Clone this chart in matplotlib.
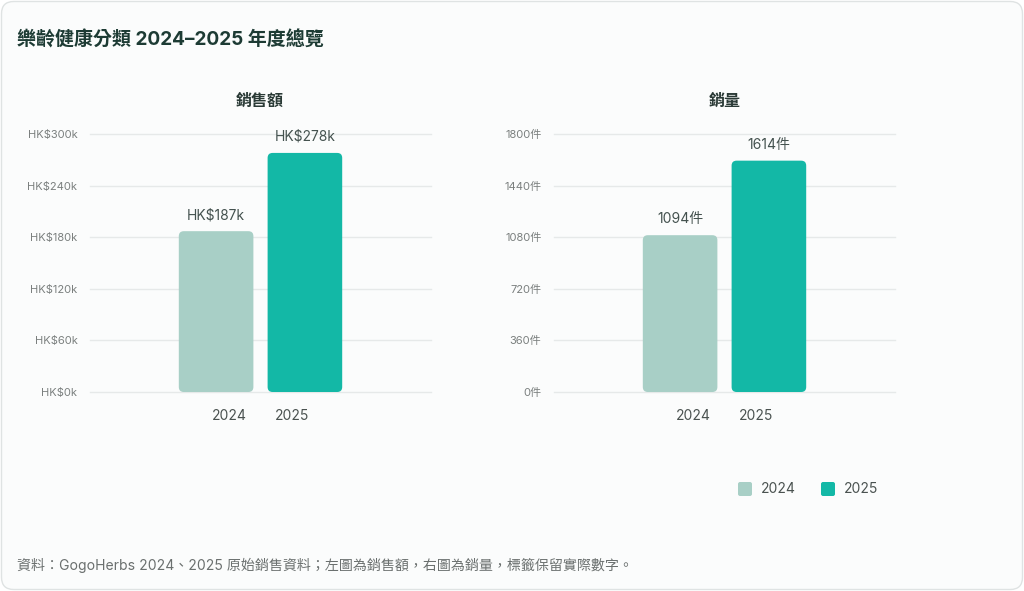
import matplotlib
matplotlib.use("Agg")
import matplotlib.pyplot as plt
from matplotlib.patches import FancyBboxPatch

plt.rcParams['font.family'] = ['Inter', 'Noto Sans CJK TC', 'DejaVu Sans']

title = "樂齡健康分類 2024–2025 年度總覽"
footer = "資料：GogoHerbs 2024、2025 原始銷售資料；左圖為銷售額，右圖為銷量，標籤保留實際數字。"
years = ["2024", "2025"]
sales_k = [187, 278]
units = [1094, 1614]
sales_ticks = [0, 60, 120, 180, 240, 300]
unit_ticks = [0, 360, 720, 1080, 1440, 1800]
panel_titles = ["銷售額", "銷量"]

c2024 = "#a8cfc6"
c2025 = "#13b8a6"
colors = [c2024, c2025]
grid_c = "#e6e9e9"
tick_c = "#7a7f7e"
val_c = "#44524f"
title_c = "#1d3b34"

W, H = 1024, 591
fig = plt.figure(figsize=(W / 100, H / 100), dpi=100)
fig.patch.set_facecolor("white")

card = FancyBboxPatch((1.5 / W, 1.5 / H), (W - 3) / W, (H - 3) / H,
                      boxstyle="round,pad=0,rounding_size=0.012",
                      mutation_aspect=W / H,
                      transform=fig.transFigure, facecolor="#fbfcfc",
                      edgecolor="#dfe3e3", linewidth=1.0, zorder=-5)
fig.patches.append(card)

fig.text(17 / W, 1 - 40 / H, title, fontsize=13.7, fontweight="bold",
         color=title_c, va="center", ha="left")
fig.text(17 / W, 1 - 565 / H, footer, fontsize=10.1, color="#6b706f",
         va="center", ha="left")


def make_panel(left_px, vals, ticks, fmt, lab_fmt, ptitle, title_x_px):
    ax = fig.add_axes([left_px / W, 1 - 392 / H, 341 / W, 258 / H])
    ax.set_facecolor("none")
    xs = [0, 1]
    bars = ax.bar(xs, vals, width=0.84, color=colors)
    ax.set_xlim(-1.42, 2.42)
    ax.set_ylim(0, ticks[-1])
    for s in ax.spines.values():
        s.set_visible(False)
    ax.set_yticks(ticks)
    ax.set_yticklabels([fmt(t) for t in ticks])
    ax.tick_params(axis="y", length=0, pad=9, labelsize=8, labelcolor=tick_c)
    for t in ticks:
        ax.axhline(t, color=grid_c, linewidth=1.0, zorder=1, clip_on=False)
    ax.set_xticks([0.15, 0.86])
    ax.set_xticklabels(years)
    ax.tick_params(axis="x", length=0, pad=12, labelsize=10, labelcolor="#4a5250")
    # rounded bars
    xpp = (ax.get_xlim()[1] - ax.get_xlim()[0]) / 341.0
    ypp = ticks[-1] / 258.0
    for b, c in zip(bars, colors):
        x, y, w, h = b.get_x(), b.get_y(), b.get_width(), b.get_height()
        b.set_visible(False)
        p = FancyBboxPatch((x, y), w, h,
                           boxstyle=f"round,pad=0,rounding_size={5 * xpp}",
                           mutation_aspect=ypp / xpp,
                           facecolor=c, edgecolor="none", zorder=3)
        ax.add_patch(p)
        ax.text(x + w / 2, y + h + 9 * ypp, lab_fmt(h), ha="center",
                va="bottom", fontsize=10, color=val_c, zorder=4)
    fig.text(title_x_px / W, 1 - 101 / H, ptitle, fontsize=11.5,
             fontweight="bold", color="#2a3a36", ha="center", va="center")
    return ax


make_panel(90, sales_k, sales_ticks, lambda t: f"HK${t}k",
           lambda v: f"HK${v:.0f}k", panel_titles[0], 260)
make_panel(554, units, unit_ticks, lambda t: f"{t}件",
           lambda v: f"{v:.0f}件", panel_titles[1], 725)

# legend
for i, (yr, c) in enumerate(zip(years, colors)):
    x0 = 745 + i * 83
    sq = FancyBboxPatch(((x0 - 7) / W, (1 - 489 / H) - 7 / H), 14 / W, 14 / H,
                        boxstyle="round,pad=0,rounding_size=0.002",
                        mutation_aspect=W / H,
                        transform=fig.transFigure, facecolor=c,
                        edgecolor="none")
    fig.patches.append(sq)
    fig.text((x0 + 16) / W, 1 - 489 / H, yr, fontsize=10, color="#4a5250",
             ha="left", va="center")

fig.savefig("out.png", dpi=100, facecolor="white")
